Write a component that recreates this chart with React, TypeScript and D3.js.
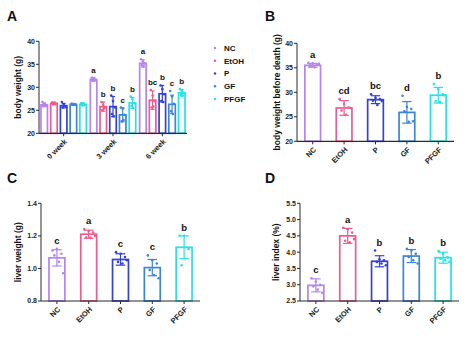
import React from "react";
import * as d3 from "d3";

const groups = ["NC", "EtOH", "P", "GF", "PFGF"];
const colors = ["#b584ee", "#ee5c8b", "#3340da", "#3a85d8", "#22e4e4"];

// Panel A
const weeks = ["0 week", "3 week", "6 week"];
const week0Means = [26.2, 26.5, 26.0, 26.3, 26.3];
const week3Means = [31.7, 25.8, 25.8, 24.0, 26.6];
const week6Means = [35.2, 27.2, 28.6, 26.3, 28.8];
const week0Err = [0.4, 0.3, 0.5, 0.2, 0.3];
const week3Err = [0.4, 1.0, 2.2, 1.5, 1.2];
const week6Err = [0.8, 2.0, 1.8, 2.0, 0.7];
const week0Letters = ["", "", "", "", ""];
const week3Letters = ["a", "b", "b", "c", "b"];
const week6Letters = ["a", "bc", "b", "c", "b"];
const week0Points = [
  [26.8, 26.4, 26.0, 25.9, 26.3],
  [26.7, 26.6, 26.4, 26.3, 26.5],
  [26.8, 26.2, 25.8, 25.6, 26.0],
  [26.4, 26.3, 26.2, 26.2, 26.3],
  [26.6, 26.4, 26.2, 26.1, 26.3],
];
const week3Points = [
  [32.1, 31.9, 31.6, 31.4, 31.7],
  [26.8, 26.2, 25.6, 25.0, 25.4],
  [28.2, 27.0, 25.6, 24.2, 23.7],
  [25.6, 25.4, 24.0, 22.6, 22.9],
  [28.0, 27.4, 26.6, 26.0, 25.5],
];
const week6Points = [
  [36.1, 35.6, 35.2, 34.8, 34.6],
  [29.4, 28.2, 27.0, 25.6, 25.8],
  [30.4, 29.6, 28.5, 27.0, 26.8],
  [29.2, 28.0, 26.4, 24.8, 24.2],
  [29.6, 29.2, 28.8, 28.4, 28.2],
];
const aTicks = [20, 25, 30, 35, 40];

// Panel B
const bMeans = [35.5, 26.8, 28.5, 25.9, 29.4];
const bErr = [0.4, 1.5, 0.8, 2.2, 1.6];
const bLetters = ["a", "cd", "bc", "d", "b"];
const bPoints = [
  [36.0, 35.9, 35.6, 35.3, 35.1, 35.8, 35.5],
  [28.6, 27.6, 26.9, 26.3, 25.4, 26.8],
  [29.6, 28.9, 28.6, 28.3, 27.4, 28.2],
  [29.3, 27.0, 26.6, 26.1, 24.0, 24.1],
  [31.7, 30.6, 29.6, 28.2, 28.0, 29.4],
];
const bTicks = [20, 25, 30, 35, 40];

// Panel C
const cMeans = [1.065, 1.21, 1.055, 1.005, 1.13];
const cErr = [0.05, 0.025, 0.035, 0.05, 0.07];
const cLetters = ["c", "a", "c", "c", "b"];
const cPoints = [
  [1.11, 1.12, 1.09, 1.08, 1.04, 0.97],
  [1.24, 1.23, 1.22, 1.19, 1.19, 1.2],
  [1.1, 1.09, 1.07, 1.04, 1.03, 1.05],
  [1.08, 1.05, 1.03, 0.99, 0.96, 0.94],
  [1.2, 1.2, 1.12, 1.02],
];
const cTicks = [0.8, 1.0, 1.2, 1.4];

// Panel D
const dMeans = [2.98, 4.5, 3.72, 3.88, 3.83];
const dErr = [0.2, 0.23, 0.17, 0.2, 0.17];
const dLetters = ["c", "a", "b", "b", "b"];
const dPoints = [
  [3.2, 3.1, 3.0, 2.95, 2.85, 2.75],
  [4.75, 4.7, 4.6, 4.35, 4.3, 4.4],
  [4.05, 3.78, 3.75, 3.7, 3.65, 3.6],
  [4.1, 4.05, 3.95, 3.85, 3.75, 3.65],
  [4.03, 3.95, 3.85, 3.8, 3.75, 3.7],
];
const dTicks = [2.5, 3.0, 3.5, 4.0, 4.5, 5.0, 5.5];

const FONT = "'Liberation Sans', Arial, sans-serif";
const AXIS = "#2a2a2a";

type BarSpec = {
  cx: number;
  bw: number;
  mean: number;
  err: number;
  pts: number[];
  color: string;
  letter: string;
};

function Bar({ s, y, base, letterSize }: { s: BarSpec; y: d3.ScaleLinear<number, number>; base: number; letterSize: number }) {
  const x0 = s.cx - s.bw / 2;
  const top = y(s.mean);
  const eTop = y(s.mean + s.err);
  const eBot = y(s.mean - s.err);
  const cap = s.bw * 0.3;
  const maxV = Math.max(s.mean + s.err, ...s.pts);
  return (
    <g>
      <rect x={x0} y={top} width={s.bw} height={base - top} fill="white" stroke={s.color} strokeWidth={1.7} />
      <line x1={s.cx} x2={s.cx} y1={eTop} y2={eBot} stroke={s.color} strokeWidth={1.2} />
      <line x1={s.cx - cap} x2={s.cx + cap} y1={eTop} y2={eTop} stroke={s.color} strokeWidth={1.2} />
      <line x1={s.cx - cap} x2={s.cx + cap} y1={eBot} y2={eBot} stroke={s.color} strokeWidth={1.2} />
      {s.pts.map((p, i) => (
        <circle key={i} cx={s.cx + ((i % 3) - 1) * s.bw * 0.28 + (i >= 3 ? s.bw * 0.12 : 0)} cy={y(p)} r={1.3} fill={s.color} />
      ))}
      {s.letter && (
        <text x={s.cx} y={y(maxV) - 5} textAnchor="middle" fontSize={letterSize} fontWeight="bold" fontFamily={FONT} fill="#111">
          {s.letter}
        </text>
      )}
    </g>
  );
}

function YAxis({ y, x, ticks, fmt, label, labelX }: { y: d3.ScaleLinear<number, number>; x: number; ticks: number[]; fmt: (v: number) => string; label: string; labelX: number }) {
  const [r0, r1] = y.range();
  return (
    <g>
      <line x1={x} x2={x} y1={r0} y2={r1} stroke={AXIS} strokeWidth={1} />
      {ticks.map((t) => (
        <g key={t}>
          <line x1={x - 3} x2={x} y1={y(t)} y2={y(t)} stroke={AXIS} strokeWidth={1} />
          <text x={x - 4} y={y(t)} dy="0.35em" textAnchor="end" fontSize={7} fontWeight="bold" fontFamily={FONT} fill="#222">
            {fmt(t)}
          </text>
        </g>
      ))}
      <text
        transform={`translate(${labelX},${(r0 + r1) / 2}) rotate(-90)`}
        textAnchor="middle"
        fontSize={8.5}
        fontWeight="bold"
        fontFamily={FONT}
        fill="#111"
      >
        {label}
      </text>
    </g>
  );
}

function XAxis({ x0, x1, base, centers, labels }: { x0: number; x1: number; base: number; centers: number[]; labels: string[] }) {
  return (
    <g>
      <line x1={x0} x2={x1} y1={base} y2={base} stroke={AXIS} strokeWidth={1.2} />
      {centers.map((c, i) => (
        <g key={i}>
          <line x1={c} x2={c} y1={base} y2={base + 3} stroke={AXIS} strokeWidth={1} />
          <text
            transform={`translate(${c + 2},${base + 7}) rotate(-45)`}
            textAnchor="end"
            dy="0.35em"
            fontSize={7.5}
            fontWeight="bold"
            fontFamily={FONT}
            fill="#222"
          >
            {labels[i]}
          </text>
        </g>
      ))}
    </g>
  );
}

function SimplePanel({
  axisX, axisEnd, top, bottom, domain, ticks, fmt, means, errs, pts, letters, label, labelX,
}: {
  axisX: number; axisEnd: number; top: number; bottom: number; domain: [number, number]; ticks: number[];
  fmt: (v: number) => string; means: number[]; errs: number[]; pts: number[][]; letters: string[]; label: string; labelX: number;
}) {
  const y = d3.scaleLinear().domain(domain).range([bottom, top]);
  const x = d3.scaleBand<string>().domain(groups).range([axisX, axisEnd]).paddingInner(0.5).paddingOuter(0.25);
  const centers = groups.map((g) => (x(g) as number) + x.bandwidth() / 2);
  return (
    <g>
      {groups.map((g, i) => (
        <Bar
          key={g}
          s={{ cx: centers[i], bw: x.bandwidth(), mean: means[i], err: errs[i], pts: pts[i], color: colors[i], letter: letters[i] }}
          y={y}
          base={bottom}
          letterSize={9.5}
        />
      ))}
      <YAxis y={y} x={axisX} ticks={ticks} fmt={fmt} label={label} labelX={labelX} />
      <XAxis x0={axisX} x1={axisEnd} base={bottom} centers={centers} labels={groups} />
    </g>
  );
}

export default function App() {
  const aTop = 41.3, aBottom = 133.3, aX = 39, aEnd = 187;
  const yA = d3.scaleLinear().domain([20, 40]).range([aBottom, aTop]);
  const xA = d3.scaleBand<string>().domain(weeks).range([aX, aEnd]);
  const xSub = d3.scaleBand<string>().domain(groups).range([0, xA.bandwidth() * 0.92]).paddingInner(0.33);
  const weekMeans = [week0Means, week3Means, week6Means];
  const weekErr = [week0Err, week3Err, week6Err];
  const weekLetters = [week0Letters, week3Letters, week6Letters];
  const weekPoints = [week0Points, week3Points, week6Points];
  const weekCenters = weeks.map((w) => (xA(w) as number) + xA.bandwidth() / 2);

  const legendY = d3.scalePoint<string>().domain(groups).range([48, 99]);

  return (
    <svg width={474} height={343} style={{ position: "absolute", left: 0, top: 0, background: "white" }}>
      <rect x={0} y={0} width={474} height={343} fill="white" />
      {[["A", 7, 21], ["B", 265, 21], ["C", 7, 183], ["D", 265, 183]].map(([t, px, py]) => (
        <text key={t as string} x={px as number} y={py as number} fontSize={14} fontWeight="bold" fontFamily={FONT} fill="#111">
          {t}
        </text>
      ))}

      <g>
        {weeks.map((w, wi) => {
          const gx = (xA(w) as number) + xA.bandwidth() * 0.04;
          return groups.map((g, i) => (
            <Bar
              key={w + g}
              s={{
                cx: gx + (xSub(g) as number) + xSub.bandwidth() / 2,
                bw: xSub.bandwidth(),
                mean: weekMeans[wi][i],
                err: weekErr[wi][i],
                pts: weekPoints[wi][i],
                color: colors[i],
                letter: weekLetters[wi][i],
              }}
              y={yA}
              base={aBottom}
              letterSize={8}
            />
          ));
        })}
        <YAxis y={yA} x={aX} ticks={aTicks} fmt={(v) => String(v)} label="body weight (g)" labelX={21} />
        <XAxis x0={aX} x1={aEnd} base={aBottom} centers={weekCenters} labels={weeks} />
        {groups.map((g, i) => (
          <g key={g}>
            <circle cx={215} cy={legendY(g) as number} r={1.2} fill={colors[i]} />
            <text x={224} y={legendY(g) as number} dy="0.35em" fontSize={8} fontWeight="bold" fontFamily={FONT} fill="#111">
              {g}
            </text>
          </g>
        ))}
      </g>

      <SimplePanel
        axisX={297} axisEnd={454} top={43.3} bottom={141.3} domain={[20, 40]} ticks={bTicks}
        fmt={(v) => String(v)} means={bMeans} errs={bErr} pts={bPoints} letters={bLetters}
        label="body weight before death (g)" labelX={280}
      />

      <SimplePanel
        axisX={41} axisEnd={200} top={203.3} bottom={301} domain={[0.8, 1.4]} ticks={cTicks}
        fmt={(v) => v.toFixed(1)} means={cMeans} errs={cErr} pts={cPoints} letters={cLetters}
        label="liver weight (g)" labelX={21}
      />

      <SimplePanel
        axisX={300} axisEnd={459} top={203.3} bottom={301} domain={[2.5, 5.5]} ticks={dTicks}
        fmt={(v) => v.toFixed(1)} means={dMeans} errs={dErr} pts={dPoints} letters={dLetters}
        label="liver index (%)" labelX={279}
      />
    </svg>
  );
}
